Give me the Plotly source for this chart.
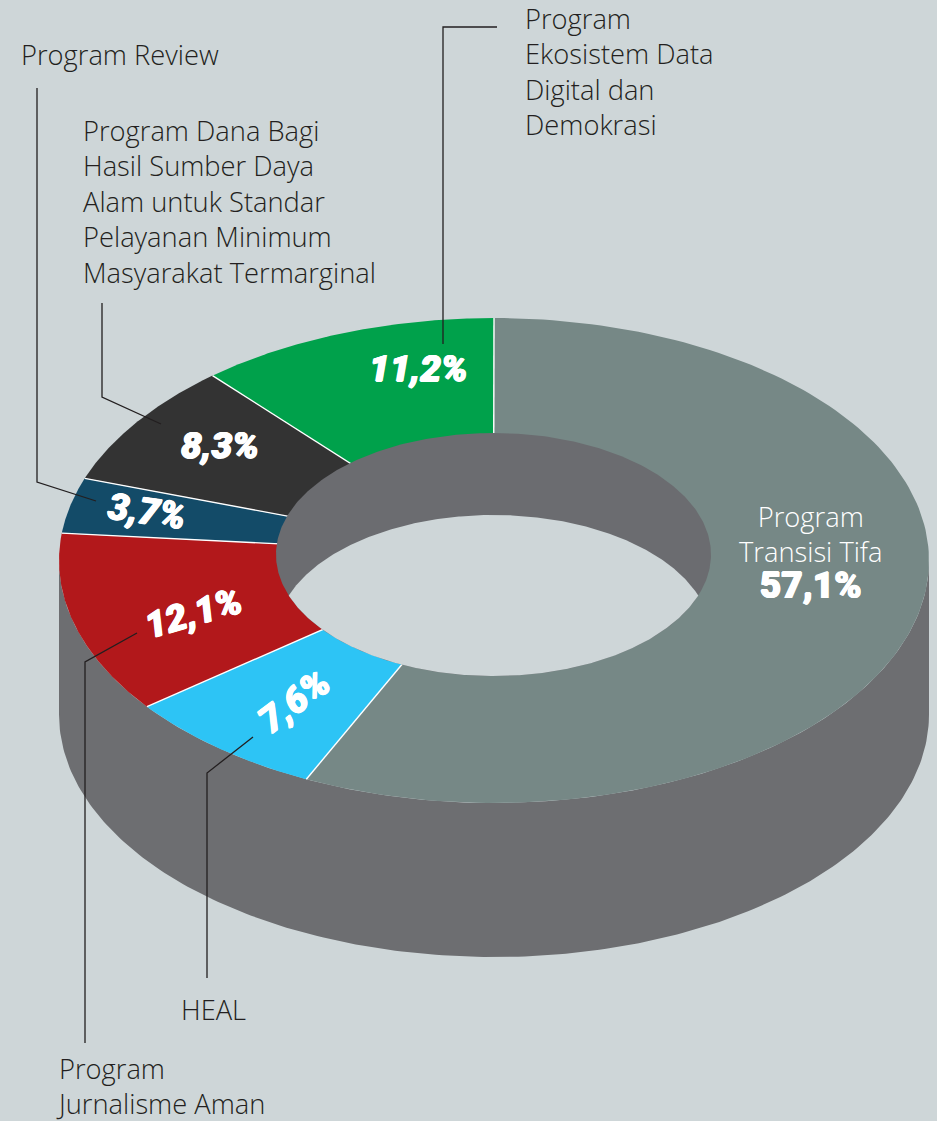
import numpy as np
import plotly.graph_objects as go

# ---- data ----
categories = ["Program Transisi Tifa", "HEAL", "Program Jurnalisme Aman", "Program Review",
              "Program Dana Bagi Hasil Sumber Daya Alam untuk Standar Pelayanan Minimum Masyarakat Termarginal",
              "Program Ekosistem Data Digital dan Demokrasi"]
values = [57.1, 7.6, 12.1, 3.7, 8.3, 11.2]
value_labels = ["57,1%", "7,6%", "12,1%", "3,7%", "8,3%", "11,2%"]
colors = ["#768886", "#2DC4F5", "#B2181B", "#134B68", "#333333", "#00A14B"]

# ---- style / geometry ----
BG, WALL, INNER_WALL, INK = "#CED6D8", "#6D6E71", "#6B6C70", "#231F20"
W, H = 937, 1121
CX, CY, RX, RY = 494, 560.5, 435, 242.5
HX, HY, HRX, HRY = 493.5, 554.5, 217.5, 121.5
DEPTH, HOLE_DEPTH = 154, 82
FONT = "Open Sans"
PCT_FONT = "Roboto"
PCT_SIZE = 37
THICK = "0.7px 0 0 white, -0.7px 0 0 white, 0 0.5px 0 white, 0 -0.5px 0 white"


def ell(cx, cy, rx, ry, a0, a1, n=200):
    """Clockwise angles measured from 12 o'clock, in percent of the circle."""
    t = np.linspace(a0, a1, n) / 100 * 2 * np.pi
    return cx + rx * np.sin(t), cy - ry * np.cos(t)


fig = go.Figure()


def poly(x, y, color):
    fig.add_trace(go.Scatter(x=x, y=y, mode="lines", fill="toself", fillcolor=color,
                             line=dict(width=0, color=color), hoverinfo="skip", showlegend=False))


# outer wall
ax, ay = ell(CX, CY, RX, RY, 25, 75)
bx, by = ell(CX, CY + DEPTH, RX, RY, 25, 75)
poly(np.concatenate([ax, bx[::-1]]), np.concatenate([ay, by[::-1]]), WALL)

# top surface wedges, from the values
edges = np.concatenate([[0], np.cumsum(values)])
for i, c in enumerate(colors):
    x, y = ell(CX, CY, RX, RY, edges[i], edges[i + 1], 160)
    poly(np.concatenate([[HX], x, [HX]]), np.concatenate([[HY], y, [HY]]), c)

# separators
for e in edges[:-1]:
    x, y = ell(CX, CY, RX, RY, e, e, 2)
    fig.add_trace(go.Scatter(x=[HX, x[0]], y=[HY, y[0]], mode="lines",
                             line=dict(color="white", width=1.4), hoverinfo="skip", showlegend=False))

# hole: inner wall, then the lens of background seen through it
x, y = ell(HX, HY, HRX, HRY, 0, 100, 400)
poly(x, y, INNER_WALL)
a = np.degrees(np.arccos(HOLE_DEPTH / 2 / HRY)) / 360 * 100
ux, uy = ell(HX, HY + HOLE_DEPTH, HRX, HRY, -a, a, 300)
lx, ly = ell(HX, HY, HRX, HRY, 50 - a, 50 + a, 300)
poly(np.concatenate([ux, lx]), np.concatenate([uy, ly]), BG)

# leader lines
leaders = [
    [(37, 88), (37, 482), (96, 501)],
    [(102, 303), (102, 397), (161, 424)],
    [(497, 27), (443, 27), (443, 344)],
    [(137, 633), (85, 662), (85, 1043)],
    [(253, 737), (207, 773), (207, 978)],
]
for pts in leaders:
    fig.add_trace(go.Scatter(x=[p[0] for p in pts], y=[p[1] for p in pts], mode="lines",
                             line=dict(color=INK, width=1.3), hoverinfo="skip", showlegend=False))

# text
text_blocks = [
    ("Program<br>Ekosistem Data<br>Digital dan<br>Demokrasi", 523, 71.5),
    ("Program Review", 19, 54),
    ("Program Dana Bagi<br>Hasil Sumber Daya<br>Alam untuk Standar<br>Pelayanan Minimum<br>Masyarakat Termarginal",
     81, 201),
    ("HEAL", 179, 1009),
    ("Program<br>Jurnalisme Aman", 53.5, 1086),
]
annotations = []
for s, x, y in text_blocks:
    annotations.append(dict(x=x, y=y, text=s, showarrow=False, xanchor="left", yanchor="middle", align="left",
                            font=dict(family=FONT, size=27.3, color=INK, weight=300)))
big = (f'<span style="font-family:{PCT_FONT};font-size:{PCT_SIZE}px;font-weight:900;'
       f'text-shadow:{THICK}">{value_labels[0]}</span>')
annotations.append(dict(x=811, y=552.5, text="Program<br>Transisi Tifa<br>" + big, showarrow=False,
                        xanchor="center", yanchor="middle", align="center",
                        font=dict(family=FONT, size=27.3, color="white", weight=300)))
pct_pos = [None, (294, 701, -37), (193, 613, -16), (147, 511, 8), (220, 445, 0), (418, 368, 0)]
for lab, p in zip(value_labels, pct_pos):
    if p is None:
        continue
    annotations.append(dict(x=p[0], y=p[1], text=lab, showarrow=False, xanchor="center", yanchor="middle",
                            textangle=p[2],
                            font=dict(family=PCT_FONT, size=PCT_SIZE, color="white", weight=900,
                                      style="italic", shadow=THICK)))

fig.update_layout(
    width=W, height=H, autosize=False, margin=dict(l=0, r=0, t=0, b=0),
    paper_bgcolor=BG, plot_bgcolor=BG, showlegend=False, annotations=annotations,
    xaxis=dict(range=[0, W], visible=False, fixedrange=True),
    yaxis=dict(range=[H, 0], visible=False, fixedrange=True),
)
fig.write_html("out.html", config={"displayModeBar": False},
               post_script="document.body.style.margin='0';document.documentElement.style.overflow='hidden';")
